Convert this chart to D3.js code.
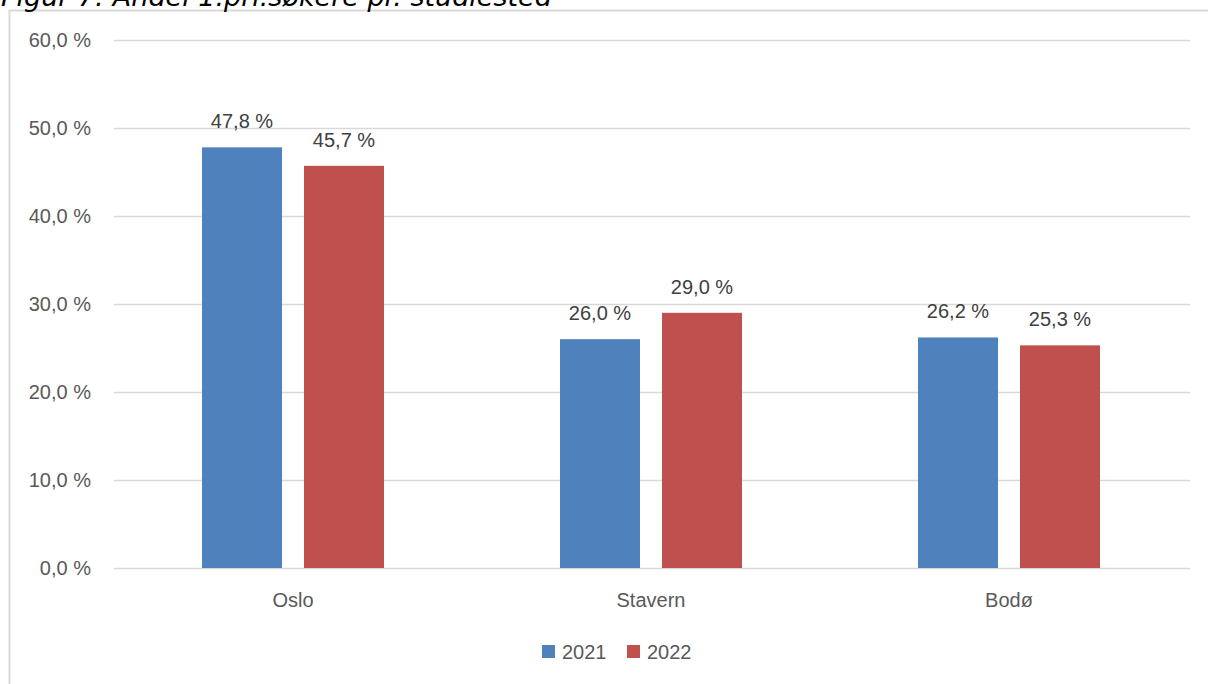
<!DOCTYPE html>
<html><head><meta charset="utf-8">
<script src="https://cdn.jsdelivr.net/npm/d3@7"></script>
<style>body{margin:0;background:#fff}svg{display:block}</style>
</head><body>
<script>
const title = "Figur 7: Andel 1.pri.søkere pr. studiested";
const categories = ["Oslo", "Stavern", "Bodø"];
const seriesNames = ["2021", "2022"];
const values2021 = [47.8, 26.0, 26.2];
const values2022 = [45.7, 29.0, 25.3];
const yTicks = [0, 10, 20, 30, 40, 50, 60];
const colors = ["#4f81bd", "#c0504d"];

const W = 1208, H = 684;
const svg = d3.select("body").append("svg").attr("width", W).attr("height", H);
const fmt = v => d3.format(".1f")(v).replace(".", ",") + " %";
const font = "'Liberation Sans', Arial, sans-serif";
const fs = 20;

// chart border
svg.append("path").attr("d", `M9.5,${H+5} V10.5 H${W+5}`).attr("fill","none").attr("stroke","#d9d9d9").attr("stroke-width",2);

// title (cut off at top)
svg.append("text").attr("x", 1).attr("y", 6).text(title)
  .attr("font-family", "'DejaVu Sans', Verdana, sans-serif").attr("font-style","italic")
  .attr("font-size", 27).attr("fill", "#000");

const x0 = d3.scaleBand().domain(categories).range([114, 1188]);
const y = d3.scaleLinear().domain([0, 60]).range([568, 40]);

// gridlines
svg.append("g").selectAll("line").data(yTicks).join("line")
  .attr("x1", 114).attr("x2", 1190)
  .attr("y1", d => y(d)+0.5).attr("y2", d => y(d)+0.5)
  .attr("stroke", "#d9d9d9").attr("stroke-width", 1.5);

// y tick labels
svg.append("g").selectAll("text").data(yTicks).join("text")
  .attr("x", 91).attr("y", d => y(d)).attr("dy", "0.35em")
  .attr("text-anchor", "end").text(d => fmt(d))
  .attr("font-family", font).attr("font-size", fs).attr("fill", "#595959");

// x labels
svg.append("g").selectAll("text").data(categories).join("text")
  .attr("x", d => x0(d) + x0.bandwidth()/2).attr("y", 600).attr("dy","0.35em")
  .attr("text-anchor","middle").text(d => d)
  .attr("font-family", font).attr("font-size", fs).attr("fill", "#595959");

const barW = 80, gap = 22;
const x1 = d3.scaleOrdinal().domain(seriesNames).range([0, barW + gap]);
const series = [values2021, values2022];
series.forEach((vals, si) => {
  const g = svg.append("g");
  const data = categories.map((c, i) => ({c, v: vals[i]}));
  const off = (x0.bandwidth() - (2*barW + gap)) / 2;
  g.selectAll("rect").data(data).join("rect")
    .attr("x", d => x0(d.c) + off + x1(seriesNames[si]))
    .attr("y", d => y(d.v)).attr("width", barW)
    .attr("height", d => y(0) - y(d.v)).attr("fill", colors[si]);
  g.selectAll("text").data(data).join("text")
    .attr("x", d => x0(d.c) + off + x1(seriesNames[si]) + barW/2)
    .attr("y", d => y(d.v) - 26).attr("dy","0.35em")
    .attr("text-anchor","middle").text(d => fmt(d.v))
    .attr("font-family", font).attr("font-size", fs).attr("fill", "#404040");
});

// legend
const lg = svg.append("g");
const legX = [542, 627];
seriesNames.forEach((s, i) => {
  lg.append("rect").attr("x", legX[i]).attr("y", 645).attr("width", 13).attr("height", 13).attr("fill", colors[i]);
  lg.append("text").attr("x", legX[i] + 20).attr("y", 652).attr("dy","0.35em").text(s)
    .attr("font-family", font).attr("font-size", fs).attr("fill", "#595959");
});
</script>
</body></html>
